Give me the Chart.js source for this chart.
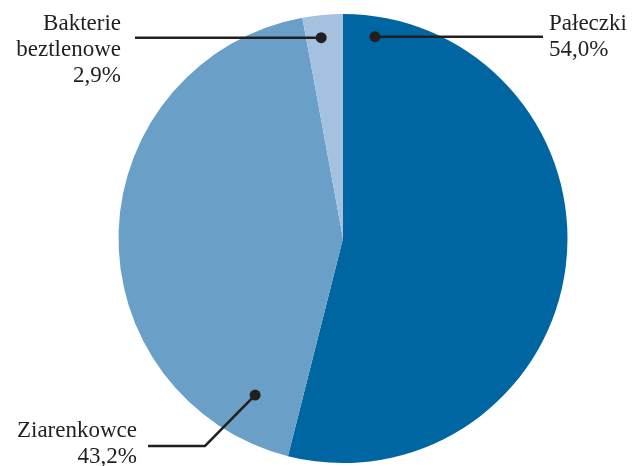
<!DOCTYPE html>
<html lang="pl">
<head>
<meta charset="utf-8">
<title>Bakterie</title>
<script src="https://cdn.jsdelivr.net/npm/chart.js@4/dist/chart.umd.min.js"></script>
<style>
  html, body { margin: 0; padding: 0; background: #fff; }
  #chart { display: block; }
</style>
</head>
<body>
<canvas id="chart" width="632" height="466"></canvas>
<script>
// dane
const categories = ["Pałeczki", "Ziarenkowce", "Bakterie beztlenowe"];
const values = [54.0, 43.2, 2.9];
const valueLabels = ["54,0%", "43,2%", "2,9%"];
const colors = ["#0066a2", "#6aa0c8", "#a4c2df"];

const INK = "#231f20";
const FONT = '23px "Liberation Serif", "Times New Roman", serif';

// opisy: punkt na wycinku (kąt od góry w stopniach, ułamek promienia), linia, tekst
// y = null -> linia pozioma na wysokości punktu
const callouts = [
  { idx: 0, angle: 9, frac: 0.91, path: [[543, null]], lines: ["Pałeczki", valueLabels[0]], tx: 549, ty: 30, align: "left" },
  { idx: 1, angle: 209.3, frac: 0.80, path: [[205, 446], [148, 446]], lines: ["Ziarenkowce", valueLabels[1]], tx: 137, ty: 437, align: "right" },
  { idx: 2, angle: 353.8, frac: 0.90, path: [[135, null]], lines: ["Bakterie", "beztlenowe", valueLabels[2]], tx: 121, ty: 30, align: "right" },
];

const calloutPlugin = {
  id: "callouts",
  afterDatasetsDraw(chart) {
    const ctx = chart.ctx;
    const arcs = chart.getDatasetMeta(0).data;
    ctx.save();
    callouts.forEach(c => {
      const arc = arcs[c.idx];
      const a = (c.angle - 90) * Math.PI / 180;
      const r = arc.outerRadius * c.frac;
      const px = arc.x + Math.cos(a) * r;
      const py = arc.y + Math.sin(a) * r;

      ctx.strokeStyle = INK;
      ctx.lineWidth = 2.5;
      ctx.beginPath();
      ctx.moveTo(px, py);
      c.path.forEach(p => ctx.lineTo(p[0], p[1] === null ? py : p[1]));
      ctx.stroke();

      ctx.fillStyle = INK;
      ctx.beginPath();
      ctx.arc(px, py, 5.5, 0, Math.PI * 2);
      ctx.fill();

      ctx.font = FONT;
      ctx.textAlign = c.align;
      ctx.textBaseline = "alphabetic";
      c.lines.forEach((t, i) => ctx.fillText(t, c.tx, c.ty + i * 26));
    });
    ctx.restore();
  }
};

new Chart(document.getElementById("chart").getContext("2d"), {
  type: "pie",
  data: {
    labels: categories,
    datasets: [{
      data: values,
      backgroundColor: colors,
      borderWidth: 0,
    }]
  },
  options: {
    responsive: false,
    animation: false,
    layout: { padding: { left: 118, right: 64, top: 14, bottom: 3 } },
    plugins: {
      legend: { display: false },
      tooltip: { enabled: false },
    }
  },
  plugins: [calloutPlugin]
});
</script>
</body>
</html>
